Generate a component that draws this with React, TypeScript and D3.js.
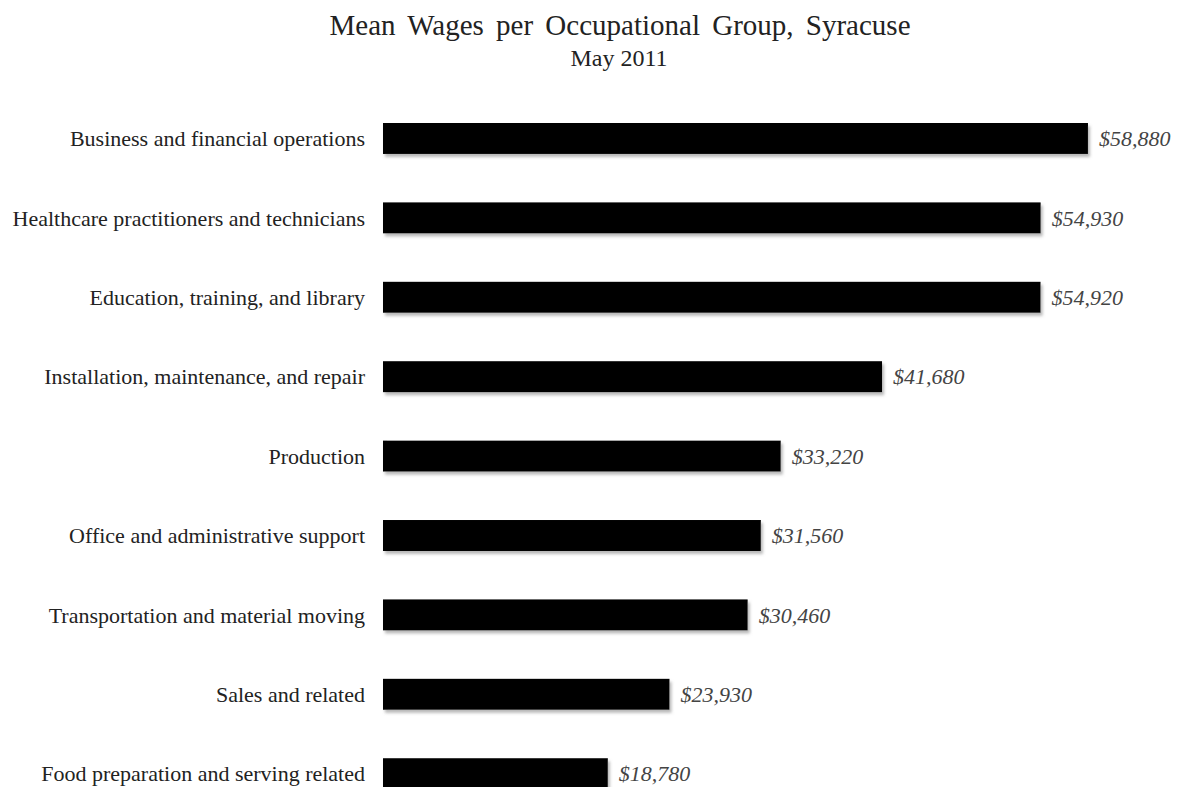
import React from "react";
import * as d3 from "d3";

const categories = [
  "Business and financial operations",
  "Healthcare practitioners and technicians",
  "Education, training, and library",
  "Installation, maintenance, and repair",
  "Production",
  "Office and administrative support",
  "Transportation and material moving",
  "Sales and related",
  "Food preparation and serving related",
];
const wages = [58880, 54930, 54920, 41680, 33220, 31560, 30460, 23930, 18780];
const titleText = "Mean Wages per Occupational Group, Syracuse";
const subtitleText = "May 2011";

const W = 1180;
const H = 787;
const FONT = "'Liberation Serif', 'Times New Roman', serif";

export default function App() {
  const x = d3.scaleLinear().domain([0, 60000]).range([383, 383 + 60000 * 0.011973]);
  const y = d3
    .scaleBand<string>()
    .domain(categories)
    .range([123, 123 + 8 * 79.4 + 31])
    .paddingInner(0.61)
    .paddingOuter(0);
  const fmt = d3.format(",");

  return (
    <svg
      width={W}
      height={H}
      style={{ position: "absolute", left: 0, top: 0, background: "#fff" }}
    >
      <defs>
        <filter id="shadow" x="-5%" y="-30%" width="110%" height="180%">
          <feDropShadow dx="2" dy="3" stdDeviation="1.5" floodColor="#888" floodOpacity="0.6" />
        </filter>
      </defs>
      <text
        x={620}
        y={35}
        textAnchor="middle"
        fontFamily={FONT}
        fontSize={29}
        wordSpacing={5}
        fill="#222"
      >
        {titleText}
      </text>
      <text x={619} y={66} textAnchor="middle" fontFamily={FONT} fontSize={24} fill="#222">
        {subtitleText}
      </text>
      {categories.map((c, i) => {
        const by = y(c)!;
        const bh = y.bandwidth();
        const xe = x(wages[i]);
        return (
          <g key={c}>
            <rect
              x={x(0)}
              y={by}
              width={xe - x(0)}
              height={bh}
              fill="#000"
              filter="url(#shadow)"
            />
            <text
              x={365}
              y={by + bh / 2}
              dy="0.35em"
              textAnchor="end"
              fontFamily={FONT}
              fontSize={22}
              fill="#222"
            >
              {c}
            </text>
            <text
              x={xe + 11}
              y={by + bh / 2}
              dy="0.35em"
              textAnchor="start"
              fontFamily={FONT}
              fontStyle="italic"
              fontSize={22}
              fill="#444"
            >
              {"$" + fmt(wages[i])}
            </text>
          </g>
        );
      })}
    </svg>
  );
}
